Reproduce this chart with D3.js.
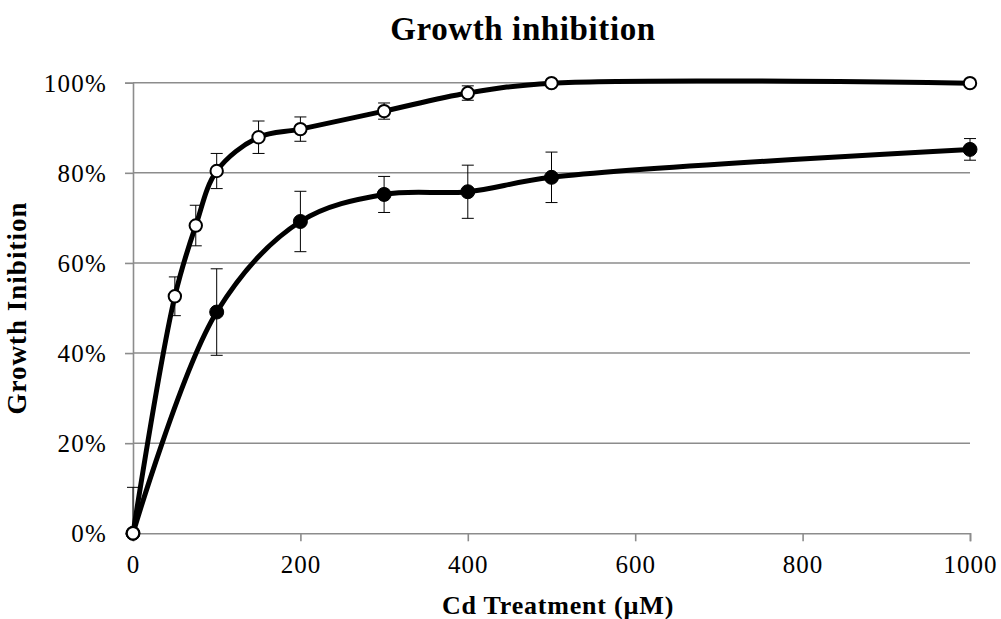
<!DOCTYPE html>
<html>
<head>
<meta charset="utf-8">
<script src="https://cdn.jsdelivr.net/npm/d3@7"></script>
<style>
  html, body { margin: 0; padding: 0; background: #fff; }
  svg { display: block; }
  text { font-family: "Liberation Serif", "Times New Roman", serif; fill: #000; }
</style>
</head>
<body>
<svg id="chart" width="1001" height="619"></svg>
<script>
// Cd concentrations (µM) and measured growth inhibition (fraction) with error half-widths
const dosesLow = [0, 100, 200, 300, 400, 500, 1000];
const inhibitionLow = [0, 0.491, 0.692, 0.752, 0.758, 0.790, 0.852];
const errorLow = [0.102, 0.096, 0.067, 0.040, 0.059, 0.056, 0.024];

const dosesHigh = [0, 50, 75, 100, 150, 200, 300, 400, 500, 1000];
const inhibitionHigh = [0, 0.526, 0.683, 0.804, 0.879, 0.897, 0.937, 0.977, 0.999, 0.999];
const errorHigh = [0, 0.043, 0.045, 0.039, 0.036, 0.027, 0.018, 0.016, 0, 0];

const xTicks = [0, 200, 400, 600, 800, 1000];
const yTicks = [0, 0.2, 0.4, 0.6, 0.8, 1.0];

const titleText = "Growth inhibition";
const xTitle = "Cd Treatment (µM)";
const yTitle = "Growth Inibition";

const svg = d3.select("#chart");
const plot = { left: 133, right: 970, top: 82.7, bottom: 533.3 };

const x = d3.scaleLinear().domain([0, 1000]).range([plot.left, plot.right]);
const y = d3.scaleLinear().domain([0, 1]).range([plot.bottom, plot.top]);

const gridColor = "#8c8c8c";

// horizontal gridlines
svg.append("g").selectAll("line").data(yTicks.filter(d => d > 0)).join("line")
  .attr("x1", plot.left).attr("x2", plot.right)
  .attr("y1", d => y(d)).attr("y2", d => y(d))
  .attr("stroke", gridColor).attr("stroke-width", 1.6);

// y axis
const yAxis = svg.append("g").attr("transform", `translate(${plot.left},0)`)
  .call(d3.axisLeft(y).tickValues(yTicks).tickFormat(d3.format(".0%")).tickSize(8).tickPadding(18));
yAxis.select(".domain").attr("stroke", gridColor).attr("stroke-width", 1.6);
yAxis.selectAll(".tick line").attr("stroke", gridColor).attr("stroke-width", 1.6);
yAxis.selectAll(".tick text").attr("font-size", 25).attr("font-family", "Liberation Serif")
  .attr("letter-spacing", 1.2).attr("fill", "#000").attr("dy", "0.34em");

// x axis
const xAxis = svg.append("g").attr("transform", `translate(0,${plot.bottom})`)
  .call(d3.axisBottom(x).tickValues(xTicks).tickFormat(d3.format("d")).tickSize(8).tickPadding(14));
xAxis.select(".domain").attr("stroke", gridColor).attr("stroke-width", 1.6);
xAxis.selectAll(".tick line").attr("stroke", gridColor).attr("stroke-width", 1.6);
xAxis.selectAll(".tick text").attr("font-size", 25).attr("font-family", "Liberation Serif")
  .attr("letter-spacing", 1).attr("fill", "#000");

// titles
svg.append("text").attr("x", 523).attr("y", 40).attr("text-anchor", "middle")
  .attr("font-size", 33).attr("letter-spacing", 0.6).attr("font-weight", "bold").text(titleText);
svg.append("text").attr("x", 558).attr("y", 614).attr("text-anchor", "middle")
  .attr("font-size", 26).attr("letter-spacing", 0.8).attr("font-weight", "bold").text(xTitle);
svg.append("text").attr("transform", "translate(26,308) rotate(-90)").attr("text-anchor", "middle")
  .attr("font-size", 27).attr("letter-spacing", 1).attr("font-weight", "bold").text(yTitle);

// clip error bars to the plot region
svg.append("clipPath").attr("id", "plotClip").append("rect")
  .attr("x", plot.left - 20).attr("y", plot.top - 20)
  .attr("width", plot.right - plot.left + 40).attr("height", plot.bottom - plot.top + 20);

const seriesLow = dosesLow.map((d, i) => ({ x: d, y: inhibitionLow[i], e: errorLow[i] }));
const seriesHigh = dosesHigh.map((d, i) => ({ x: d, y: inhibitionHigh[i], e: errorHigh[i] }));

function drawErrors(data) {
  const g = svg.append("g").attr("clip-path", "url(#plotClip)");
  const bars = data.filter(d => d.e > 0);
  const cap = 6;
  g.selectAll("line.v").data(bars).join("line")
    .attr("x1", d => x(d.x)).attr("x2", d => x(d.x))
    .attr("y1", d => y(d.y + d.e)).attr("y2", d => y(d.y - d.e))
    .attr("stroke", "#000").attr("stroke-width", 1);
  g.selectAll("line.t").data(bars).join("line")
    .attr("x1", d => x(d.x) - cap).attr("x2", d => x(d.x) + cap)
    .attr("y1", d => y(d.y + d.e)).attr("y2", d => y(d.y + d.e))
    .attr("stroke", "#000").attr("stroke-width", 1);
  g.selectAll("line.b").data(bars.filter(d => d.y - d.e >= 0)).join("line")
    .attr("x1", d => x(d.x) - cap).attr("x2", d => x(d.x) + cap)
    .attr("y1", d => y(d.y - d.e)).attr("y2", d => y(d.y - d.e))
    .attr("stroke", "#000").attr("stroke-width", 1);
}

const line = d3.line().x(d => x(d.x)).y(d => y(d.y)).curve(d3.curveCatmullRom.alpha(0.5));

function drawLine(data) {
  svg.append("path").datum(data).attr("d", line)
    .attr("fill", "none").attr("stroke", "#000").attr("stroke-width", 5)
    .attr("stroke-linejoin", "round").attr("stroke-linecap", "round");
}

drawErrors(seriesLow);
drawErrors(seriesHigh);
drawLine(seriesLow);
drawLine(seriesHigh);

// markers: filled circles for the lower series, open circles for the upper series
svg.append("g").selectAll("circle").data(seriesLow).join("circle")
  .attr("cx", d => x(d.x)).attr("cy", d => y(d.y)).attr("r", 7)
  .attr("fill", "#000").attr("stroke", "#000").attr("stroke-width", 1);
svg.append("g").selectAll("circle").data(seriesHigh).join("circle")
  .attr("cx", d => x(d.x)).attr("cy", d => y(d.y)).attr("r", 6.2)
  .attr("fill", "#fff").attr("stroke", "#000").attr("stroke-width", 2);
</script>
</body>
</html>
